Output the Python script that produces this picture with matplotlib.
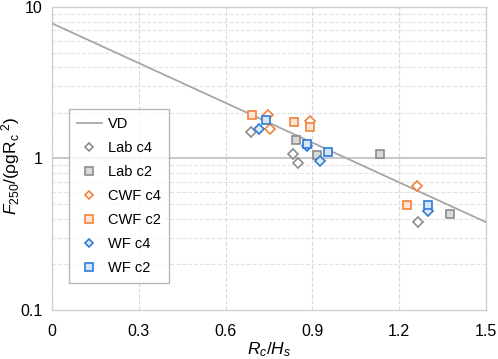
import matplotlib
matplotlib.use("Agg")
import matplotlib.pyplot as plt
from matplotlib.ticker import FixedLocator, NullFormatter, LogLocator

plt.rcParams['font.family'] = ['Liberation Sans', 'DejaVu Sans']
plt.rcParams['mathtext.fontset'] = 'custom'
plt.rcParams['mathtext.rm'] = 'Liberation Sans'
plt.rcParams['mathtext.it'] = 'Liberation Sans:italic'

# VD line (two end points, straight on log axis)
vd_x = [0.0, 1.5]
vd_y = [7.8, 0.38]

# Data
lab_c4_x = [0.688, 0.834, 0.851, 1.266]
lab_c4_y = [1.50, 1.07, 0.93, 0.38]
lab_c2_x = [0.843, 0.915, 1.135, 1.376]
lab_c2_y = [1.33, 1.05, 1.07, 0.43]
cwf_c4_x = [0.745, 0.754, 0.892, 1.260]
cwf_c4_y = [1.94, 1.57, 1.77, 0.66]
cwf_c2_x = [0.690, 0.837, 0.892, 1.227]
cwf_c2_y = [1.95, 1.75, 1.61, 0.49]
wf_c4_x = [0.717, 0.883, 0.926, 1.300]
wf_c4_y = [1.57, 1.21, 0.97, 0.45]
wf_c2_x = [0.739, 0.883, 0.953, 1.300]
wf_c2_y = [1.79, 1.25, 1.10, 0.49]

grey = '#8c8c8c'
orange = '#f4823c'
blue = '#2f7bd6'

fig = plt.figure(figsize=(4.98, 3.59), dpi=100)
ax = fig.add_axes([0.1044, 0.1365, 0.8715, 0.844])

ax.plot(vd_x, vd_y, color='#a6a6a6', lw=1.3, label='VD', zorder=3)

ms = 6.1
ax.plot(lab_c4_x, lab_c4_y, 'D', ms=ms - 1.0, mfc='white', mec=grey, mew=1.2, label='Lab c4', zorder=4)
ax.plot(lab_c2_x, lab_c2_y, 's', ms=ms, mfc='#d9d9d9', mec=grey, mew=1.2, label='Lab c2', zorder=4)
ax.plot(cwf_c4_x, cwf_c4_y, 'D', ms=ms - 1.0, mfc='white', mec=orange, mew=1.2, label='CWF c4', zorder=4)
ax.plot(cwf_c2_x, cwf_c2_y, 's', ms=ms, mfc='#fce4d6', mec=orange, mew=1.2, label='CWF c2', zorder=4)
ax.plot(wf_c4_x, wf_c4_y, 'D', ms=ms - 1.0, mfc='#deebf7', mec=blue, mew=1.2, label='WF c4', zorder=4)
ax.plot(wf_c2_x, wf_c2_y, 's', ms=ms, mfc='#d6e6f8', mec=blue, mew=1.2, label='WF c2', zorder=4)

ax.set_yscale('log')
ax.set_xlim(0, 1.5)
ax.set_ylim(0.1, 10)
ax.set_xticks([0, 0.3, 0.6, 0.9, 1.2, 1.5])
ax.set_xticklabels(['0', '0.3', '0.6', '0.9', '1.2', '1.5'])
ax.yaxis.set_major_locator(FixedLocator([0.1, 1, 10]))
ax.set_yticklabels(['0.1', '1', '10'])
ax.yaxis.set_minor_locator(LogLocator(base=10, subs=range(2, 10)))
ax.yaxis.set_minor_formatter(NullFormatter())
ax.tick_params(which='both', length=0, labelsize=11.5)
ax.tick_params(axis='x', pad=10)
ax.tick_params(axis='y', pad=7)

ax.grid(True, axis='x', which='major', color='#d9d9d9', ls='--', lw=0.8)
ax.grid(True, axis='y', which='minor', color='#e3e3e3', ls='--', lw=0.8)
ax.axhline(1, color='#bfbfbf', lw=1.2, zorder=1)
for s in ax.spines.values():
    s.set_color('#d0d0d0')
    s.set_linewidth(1.0)

ax.set_xlabel(r'$R_c/H_s$', fontsize=12.5, labelpad=1)
ax.set_ylabel(r'$F_{250}\mathregular{/(ρgR_c}^{\mathregular{\ 2}}\mathregular{)}$', fontsize=12.5)
ax.yaxis.set_label_coords(-0.068, 0.475)

leg = ax.legend(loc='lower left', bbox_to_anchor=(0.022, 0.065), fontsize=10.5, frameon=True,
                fancybox=False, edgecolor='#a6a6a6', handlelength=1.7, labelspacing=0.68,
                borderpad=0.55, handletextpad=0.45, markerscale=0.85)
leg.get_frame().set_linewidth(1.0)

fig.savefig('out.png', dpi=100)
